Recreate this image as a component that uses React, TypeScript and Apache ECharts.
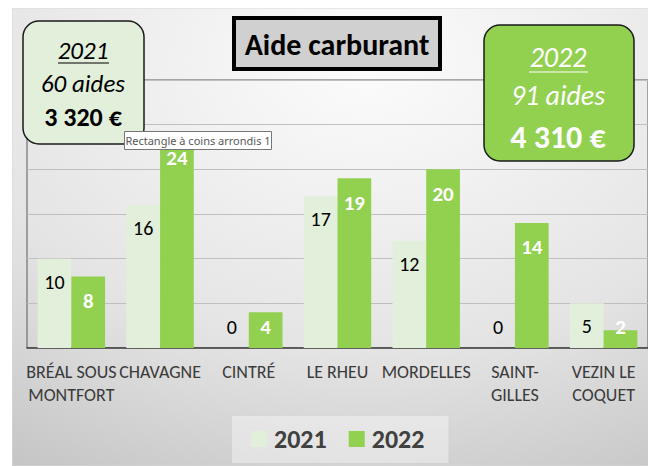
import React, { useEffect, useRef } from "react";
import * as echarts from "echarts";

const categories = [
  "BRÉAL SOUS\nMONTFORT",
  "CHAVAGNE",
  "CINTRÉ",
  "LE RHEU",
  "MORDELLES",
  "SAINT-\nGILLES",
  "VEZIN LE\nCOQUET",
];
const seriesNames = ["2021", "2022"];
const values2021 = [10, 16, 0, 17, 12, 0, 5];
const values2022 = [8, 24, 4, 19, 20, 14, 2];
const summary2021 = ["2021", "60 aides", "3 320 €"];
const summary2022 = ["2022", "91 aides", "4 310 €"];
const chartTitle = "Aide carburant";
const tipText = "Rectangle à coins arrondis 1";

const FONT = "Carlito, Lato, 'Noto Sans', sans-serif";

function withLabels(vals: number[]) {
  return vals.map((v) =>
    v < 5 ? { value: v, label: { position: "insideBottom", distance: 11 } } : v
  );
}

export default function App() {
  const ref = useRef<HTMLDivElement>(null);
  useEffect(() => {
    if (!ref.current) return;
    const chart = echarts.init(ref.current, null, { renderer: "svg" });
    const W = 644;
    const H = 458;
    chart.setOption({
      animation: false,
      graphic: [
        {
          type: "rect",
          z: -100,
          silent: true,
          shape: { x: 0, y: 0, width: W, height: H },
          style: {
            fill: {
              type: "radial",
              x: 0.55,
              y: 0.12,
              r: 1.15,
              colorStops: [
                { offset: 0, color: "#fcfcfc" },
                { offset: 0.55, color: "#e4e4e4" },
                { offset: 1, color: "#bcbcbc" },
              ],
            },
            stroke: "#d9d9d9",
            lineWidth: 1,
          },
        },
        // title box
        {
          type: "rect",
          z: 100,
          shape: { x: 222, y: 10, width: 206, height: 51 },
          style: { fill: "#d0d0d0", stroke: "#000", lineWidth: 4 },
        },
        {
          type: "text",
          z: 101,
          x: 325,
          y: 36,
          style: {
            text: chartTitle,
            font: `bold 30px ${FONT}`,
            fill: "#000",
            align: "center",
            verticalAlign: "middle",
          },
        },
        // 2021 box
        {
          type: "rect",
          z: 100,
          shape: { x: 11, y: 13, width: 121, height: 123, r: 16 },
          style: { fill: "#e2efda", stroke: "#1a1a1a", lineWidth: 1.5 },
        },
        {
          type: "text",
          z: 101,
          x: 71,
          y: 42,
          style: {
            text: summary2021[0],
            font: `italic 25px ${FONT}`,
            fill: "#000",
            align: "center",
            verticalAlign: "middle",
          },
        },
        {
          type: "line",
          z: 101,
          shape: { x1: 46, y1: 55, x2: 97, y2: 55 },
          style: { stroke: "#000", lineWidth: 1.2 },
        },
        {
          type: "text",
          z: 101,
          x: 71,
          y: 75,
          style: {
            text: summary2021[1],
            font: `italic 25px ${FONT}`,
            fill: "#000",
            align: "center",
            verticalAlign: "middle",
          },
        },
        {
          type: "text",
          z: 101,
          x: 71,
          y: 109,
          style: {
            text: summary2021[2],
            font: `bold 26px ${FONT}`,
            fill: "#000",
            align: "center",
            verticalAlign: "middle",
          },
        },
        // 2022 box
        {
          type: "rect",
          z: 100,
          shape: { x: 472, y: 17, width: 150, height: 136, r: 16 },
          style: { fill: "#92d050", stroke: "#1a1a1a", lineWidth: 1.5 },
        },
        {
          type: "text",
          z: 101,
          x: 546,
          y: 49,
          style: {
            text: summary2022[0],
            font: `italic 28px ${FONT}`,
            fill: "#fff",
            align: "center",
            verticalAlign: "middle",
          },
        },
        {
          type: "line",
          z: 101,
          shape: { x1: 517, y1: 64, x2: 576, y2: 64 },
          style: { stroke: "#fff", lineWidth: 1.2 },
        },
        {
          type: "text",
          z: 101,
          x: 546,
          y: 87,
          style: {
            text: summary2022[1],
            font: `italic 28px ${FONT}`,
            fill: "#fff",
            align: "center",
            verticalAlign: "middle",
          },
        },
        {
          type: "text",
          z: 101,
          x: 546,
          y: 129,
          style: {
            text: summary2022[2],
            font: `bold 32px ${FONT}`,
            fill: "#fff",
            align: "center",
            verticalAlign: "middle",
          },
        },
        // tooltip-like label
        {
          type: "rect",
          z: 110,
          shape: { x: 112.5, y: 123.5, width: 147, height: 18 },
          style: { fill: "#fff", stroke: "#767676", lineWidth: 1 },
        },
        {
          type: "text",
          z: 111,
          x: 186,
          y: 132.5,
          style: {
            text: tipText,
            font: `11px 'Noto Sans', 'DejaVu Sans', sans-serif`,
            fill: "#575757",
            align: "center",
            verticalAlign: "middle",
          },
        },
      ],
      legend: {
        data: seriesNames,
        left: 220,
        top: 408,
        padding: [10, 24, 11, 19],
        backgroundColor: "rgba(255,255,255,0.38)",
        itemWidth: 16,
        itemHeight: 16,
        itemGap: 22,
        icon: "rect",
        textStyle: {
          fontFamily: FONT,
          fontSize: 26,
          fontWeight: "bold",
          color: "#404040",
          padding: [0, 0, 0, 2],
        },
      },
      grid: {
        left: 15,
        right: 8,
        top: 72,
        bottom: 118,
        show: true,
        borderColor: "#595959",
        borderWidth: 1,
        backgroundColor: "transparent",
        containLabel: false,
      },
      xAxis: {
        type: "category",
        data: categories,
        axisLine: { lineStyle: { color: "#404040", width: 1.5 } },
        axisTick: { show: false },
        axisLabel: {
          interval: 0,
          margin: 12,
          fontFamily: FONT,
          fontSize: 18,
          lineHeight: 23,
          color: "#3a3a3a",
        },
      },
      yAxis: {
        type: "value",
        min: 0,
        max: 30,
        interval: 5,
        axisLabel: { show: false },
        axisLine: { show: false },
        axisTick: { show: false },
        splitLine: { lineStyle: { color: "#bfbfbf", width: 1 } },
      },
      series: [
        {
          name: seriesNames[0],
          type: "bar",
          data: withLabels(values2021),
          barGap: "0%",
          barCategoryGap: "24%",
          itemStyle: { color: "#e2efda" },
          label: {
            show: true,
            position: "insideTop",
            distance: 13,
            fontFamily: FONT,
            fontSize: 20,
            color: "#000",
          },
        },
        {
          name: seriesNames[1],
          type: "bar",
          data: withLabels(values2022),
          barGap: "0%",
          barCategoryGap: "24%",
          itemStyle: { color: "#92d050" },
          label: {
            show: true,
            position: "insideTop",
            distance: 14,
            fontFamily: FONT,
            fontSize: 21,
            fontWeight: "bold",
            color: "#fff",
          },
        },
      ],
    });
    return () => chart.dispose();
  }, []);
  return <div ref={ref} style={{ width: 644, height: 458, marginLeft: 4 }} />;
}
